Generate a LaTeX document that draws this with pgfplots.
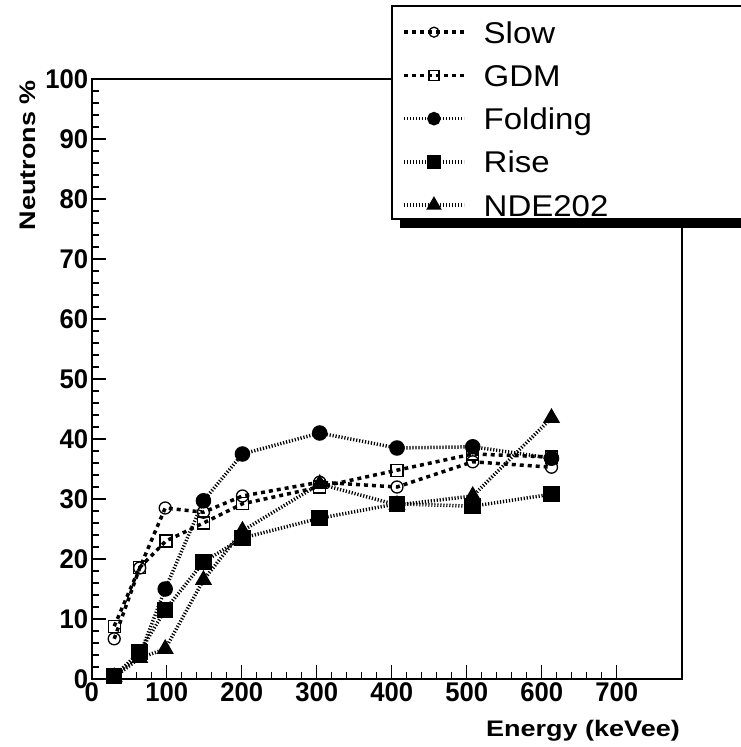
\documentclass[border=0pt]{standalone}
\usepackage{pgfplots}
\pgfplotsset{compat=1.18}
\usepackage{fontspec}
\setmainfont{Liberation Sans}
\newfontfamily\tickfont[FakeStretch=0.95]{Liberation Sans}
\newfontfamily\labfont[FakeStretch=1.2]{Liberation Sans}
\newfontfamily\legfont[FakeStretch=1.1]{Liberation Sans}
\begin{document}
\begin{tikzpicture}[x=1pt,y=1pt]
\path[use as bounding box] (0,0) rectangle (740,747);
\pgfplotsset{
 slowstyle/.style={black, line width=3.5pt, dash pattern=on 4pt off 4pt, mark=o, mark options={solid, line width=1.3pt}},
 gdmstyle/.style={black, line width=3.5pt, dash pattern=on 4pt off 4pt, mark=square, mark options={solid, line width=1.3pt}},
 foldstyle/.style={black, line width=3.5pt, dash pattern=on 1.2pt off 1.8pt, mark=*, mark options={solid}},
 risestyle/.style={black, line width=3.5pt, dash pattern=on 1.2pt off 1.8pt, mark=square*, mark options={solid}},
 ndestyle/.style={black, line width=3.5pt, dash pattern=on 1.2pt off 1.8pt, mark=triangle*, mark options={solid}},
}
\begin{axis}[
 at={(91.7pt,68pt)}, anchor=south west,
 scale only axis, width=590.3pt, height=600pt,
 xmin=0, xmax=787, ymin=0, ymax=100,
 xtick={0,100,...,700}, minor x tick num=4,
 ytick={0,10,...,100}, minor y tick num=4,
 tick align=inside, xtick pos=bottom, ytick pos=left,
 major tick length=14pt, minor tick length=7pt,
 axis line style={line width=1.6pt},
 every tick/.style={line width=1.4pt, black},
 tick label style={font=\tickfont\bfseries\fontsize{27}{27}\selectfont},
 /pgf/number format/assume math mode=true,
 xlabel={Energy (keVee)},
 xlabel style={font=\labfont\bfseries\fontsize{22.5}{22.5}\selectfont, at={(axis description cs:1,0)}, anchor=base east, inner sep=0pt, xshift=-2pt, yshift=-57pt},
 ylabel={Neutrons \%},
 ylabel style={font=\labfont\bfseries\fontsize{22.5}{22.5}\selectfont, at={(axis description cs:-0.096,0.998)}, anchor=base east, inner sep=0pt, rotate=0},
 clip=false,
]
\addplot[slowstyle, mark size=6pt]
 coordinates {(30,6.7) (64,18.5) (98,28.5) (149,27.8) (201,30.5) (304,32.8) (407,32.0) (508,36.2) (613,35.3)};
\addplot[gdmstyle, mark size=6pt]
 coordinates {(30,8.8) (64,18.6) (99,23.0) (149,26.0) (201,29.2) (304,32.0) (407,34.8) (508,37.5) (613,37.0)};
\addplot[foldstyle, mark size=6pt]
 coordinates {(30,0.5) (64,4.0) (98,15.0) (149,29.7) (201,37.5) (304,41.0) (407,38.5) (508,38.7) (613,36.8)};
\addplot[risestyle, mark size=6.5pt]
 coordinates {(30,0.5) (64,4.5) (98,11.5) (149,19.5) (201,23.5) (304,26.8) (407,29.2) (508,28.8) (613,30.8)};
\addplot[ndestyle, mark size=6.5pt]
 coordinates {(30,0.3) (64,3.5) (98,5.0) (149,16.5) (201,24.7) (304,32.5) (407,29.0) (508,30.5) (613,43.5)};
\end{axis}
% legend box with shadow
\fill[black] (400,519) rectangle (770,733);
\draw[line width=1.5pt, fill=white] (392,528) rectangle (762,741);
\begin{axis}[
 at={(91.7pt,68pt)}, anchor=south west,
 scale only axis, width=590.3pt, height=600pt,
 xmin=0, xmax=1, ymin=0, ymax=1, hide axis,
 legend cell align=left,
 legend image code/.code={\draw[mark repeat=2,mark phase=2,#1] plot coordinates {(0pt,0pt) (30pt,0pt) (60pt,0pt)};},
 legend style={at={(0.5257,1.0967)}, anchor=north west, draw=none, fill=none, inner sep=0pt,
   font=\legfont\fontsize{30}{30}\selectfont, row sep=21.25pt, column sep=18pt,
   nodes={inner sep=0pt, text height=22pt, text depth=0pt}},
]
\addlegendimage{slowstyle, mark size=5pt}
\addlegendentry{Slow}
\addlegendimage{gdmstyle, mark size=5pt}
\addlegendentry{GDM}
\addlegendimage{foldstyle, mark size=5pt}
\addlegendentry{Folding}
\addlegendimage{risestyle, mark size=5.5pt}
\addlegendentry{Rise}
\addlegendimage{ndestyle, mark size=5.5pt}
\addlegendentry{NDE202}
\end{axis}
\end{tikzpicture}
\end{document}
